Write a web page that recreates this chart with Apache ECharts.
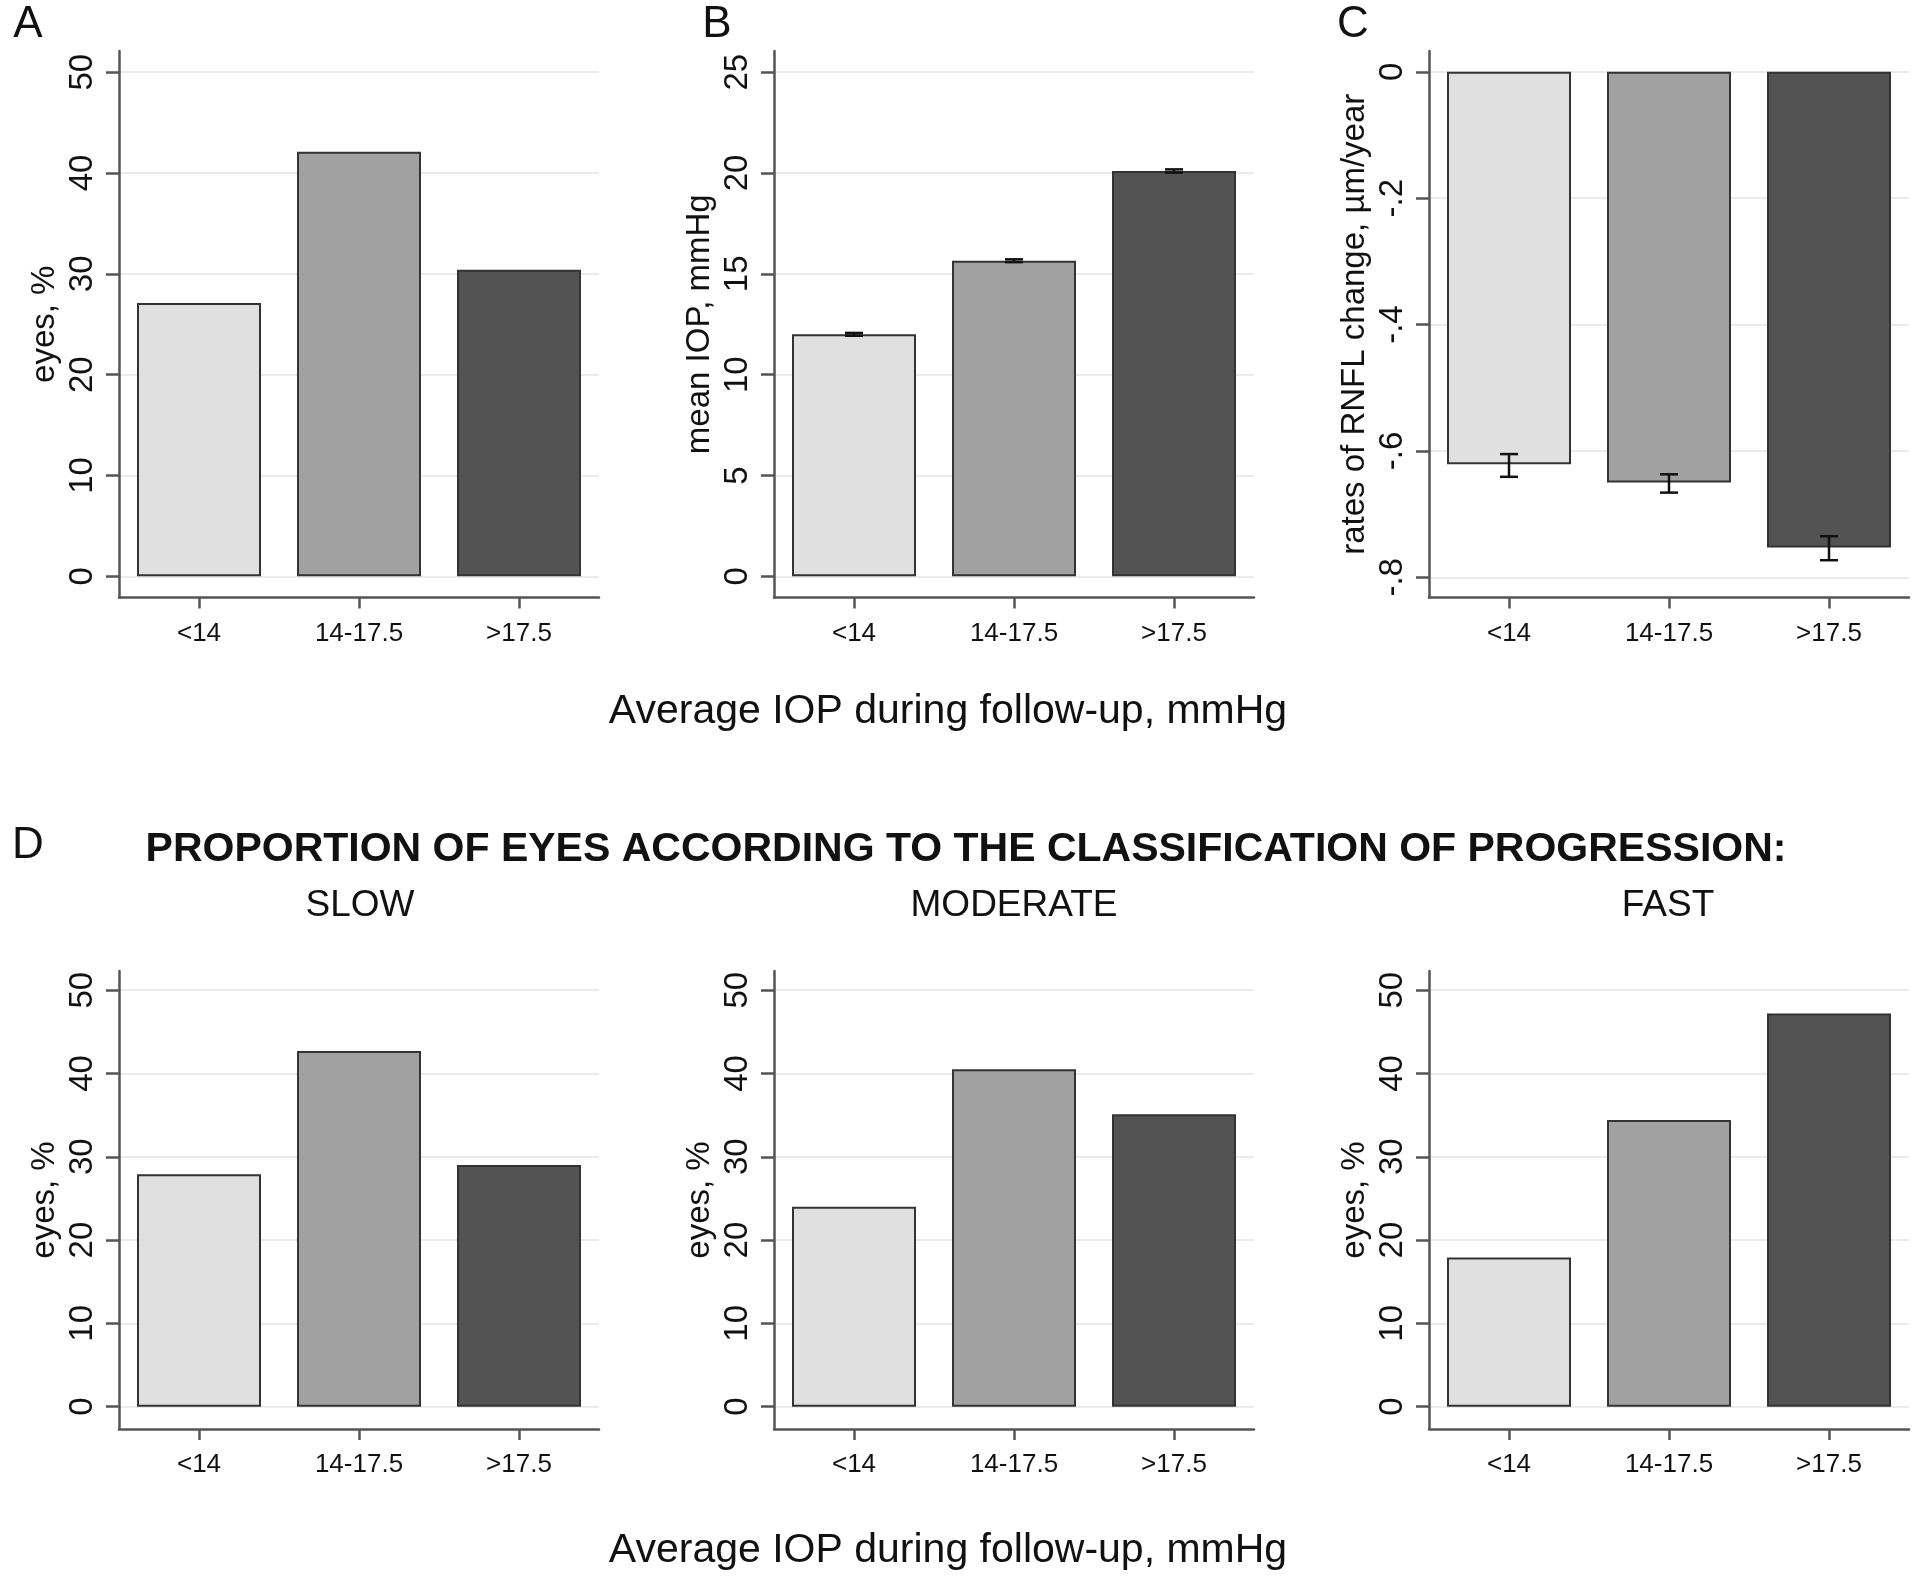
<!DOCTYPE html>
<html>
<head>
<meta charset="utf-8">
<script src="https://cdn.jsdelivr.net/npm/echarts@6/dist/echarts.min.js"></script>
<style>
html,body{margin:0;padding:0;background:#fff;}
#chart{width:1920px;height:1577px;}
</style>
</head>
<body>
<div id="chart"></div>
<script>
// ---------- data ----------
const categories = ['<14', '14-17.5', '>17.5'];
const eyesAll = [27.1, 42.1, 30.4];
const meanIOP = [12.0, 15.65, 20.1];
const meanIOPLow = [11.93, 15.58, 20.02];
const meanIOPHigh = [12.07, 15.72, 20.18];
const rnflRate = [-0.621, -0.650, -0.753];
const rnflLow = [-0.641, -0.666, -0.773];
const rnflHigh = [-0.605, -0.637, -0.735];
const eyesSlow = [27.9, 42.7, 29.0];
const eyesModerate = [24.0, 40.5, 35.1];
const eyesFast = [17.9, 34.4, 47.2];
const ticksPercent = [0, 10, 20, 30, 40, 50];
const ticksIOP = [0, 5, 10, 15, 20, 25];
const ticksRNFL = [0, -0.2, -0.4, -0.6, -0.8];
const panelLetters = ['A', 'B', 'C', 'D'];
const subTitles = ['SLOW', 'MODERATE', 'FAST'];
const mainTitle = 'PROPORTION OF EYES ACCORDING TO THE CLASSIFICATION OF PROGRESSION:';
const xTitle = 'Average IOP during follow-up, mmHg';
const yNames = ['eyes, %', 'mean IOP, mmHg', 'rates of RNFL change, µm/year'];

// ---------- style ----------
const FONT = 'Liberation Sans, Arial, Helvetica, sans-serif';
const barColors = ['#e0e0e0', '#a1a1a1', '#535353'];
const axisColor = '#555555';
const textColor = '#111111';
const gridColor = '#ebebeb';

const colLefts = [119, 774, 1429];
const gridW = 480;
const rows = [
  {top: 51, height: 546.5},
  {top: 971, height: 458}
];

const panels = [
  {row: 0, col: 0, vals: eyesAll, ticks: ticksPercent, min: -2.1, max: 52.1, name: yNames[0]},
  {row: 0, col: 1, vals: meanIOP, ticks: ticksIOP, min: -1.05, max: 26.05, name: yNames[1], lo: meanIOPLow, hi: meanIOPHigh},
  {row: 0, col: 2, vals: rnflRate, ticks: ticksRNFL, min: -0.832, max: 0.033, name: yNames[2], lo: rnflLow, hi: rnflHigh,
    fmt: v => (Math.abs(v) < 1e-9 ? '0' : String(+v.toFixed(2)).replace('0.', '.'))},
  {row: 1, col: 0, vals: eyesSlow, ticks: ticksPercent, min: -2.68, max: 52.3, name: yNames[0]},
  {row: 1, col: 1, vals: eyesModerate, ticks: ticksPercent, min: -2.68, max: 52.3, name: yNames[0]},
  {row: 1, col: 2, vals: eyesFast, ticks: ticksPercent, min: -2.68, max: 52.3, name: yNames[0]}
];

const grid = [], xAxis = [], yAxis = [], series = [];
panels.forEach((p, i) => {
  grid.push({left: colLefts[p.col], width: gridW, top: rows[p.row].top, height: rows[p.row].height, containLabel: false});
  xAxis.push({
    type: 'category', gridIndex: i, data: categories,
    axisLine: {show: true, onZero: false, lineStyle: {color: axisColor, width: 2.5}},
    axisTick: {show: true, alignWithLabel: true, length: 11, lineStyle: {color: axisColor, width: 2.5}},
    axisLabel: {fontFamily: FONT, fontSize: 26, color: textColor, margin: 23},
    splitLine: {show: false}
  });
  yAxis.push({
    type: 'value', gridIndex: i, min: p.min, max: p.max,
    name: p.name, nameLocation: 'middle', nameGap: 58,
    nameTextStyle: {fontFamily: FONT, fontSize: 33, color: textColor},
    axisLine: {show: true, onZero: false, lineStyle: {color: axisColor, width: 2.5}},
    axisTick: {show: true, customValues: p.ticks, length: 13, lineStyle: {color: axisColor, width: 2.5}},
    axisLabel: {customValues: p.ticks, rotate: 90, margin: 20, fontFamily: FONT, fontSize: 33, color: textColor,
      formatter: p.fmt ? p.fmt : (v => String(v))},
    splitLine: {show: true, lineStyle: {color: gridColor, width: 2}}
  });
  series.push({
    type: 'bar', xAxisIndex: i, yAxisIndex: i, barWidth: 124,
    data: p.vals.map((v, k) => ({value: v, itemStyle: {color: barColors[k]}})),
    itemStyle: {borderColor: '#333333', borderWidth: 2},
    silent: true, animation: false, z: 2
  });
  if (p.lo) {
    series.push({
      type: 'custom', xAxisIndex: i, yAxisIndex: i, z: 5, animation: false, silent: true,
      encode: {x: 0, y: [1, 2]},
      data: p.vals.map((v, k) => [k, p.lo[k], p.hi[k]]),
      renderItem: function (params, api) {
        const idx = api.value(0);
        const lo = api.coord([idx, api.value(1)]);
        const hi = api.coord([idx, api.value(2)]);
        const w = 9;
        const st = {stroke: '#111', lineWidth: 2.5};
        return {type: 'group', children: [
          {type: 'line', shape: {x1: lo[0], y1: lo[1], x2: hi[0], y2: hi[1]}, style: st},
          {type: 'line', shape: {x1: lo[0] - w, y1: lo[1], x2: lo[0] + w, y2: lo[1]}, style: st},
          {type: 'line', shape: {x1: hi[0] - w, y1: hi[1], x2: hi[0] + w, y2: hi[1]}, style: st}
        ]};
      }
    });
  }
});

const txt = (text, x, y, size, weight) => ({
  type: 'text', x: x, y: y, silent: true,
  style: {text: text, fontFamily: FONT, fontSize: size, fontWeight: weight || 'normal', fill: textColor,
    textAlign: 'center', textVerticalAlign: 'middle'}
});
const graphic = [
  txt(panelLetters[0], 28, 25, 44),
  txt(panelLetters[1], 717, 25, 44),
  txt(panelLetters[2], 1353, 25, 44),
  txt(panelLetters[3], 28, 846, 44),
  txt(mainTitle, 966, 850, 41, 'bold'),
  txt(subTitles[0], 360, 906, 37),
  txt(subTitles[1], 1014, 906, 37),
  txt(subTitles[2], 1668, 906, 37),
  txt(xTitle, 948, 712, 41),
  txt(xTitle, 948, 1551, 41)
];

const chart = echarts.init(document.getElementById('chart'), null, {renderer: 'canvas'});
chart.setOption({
  backgroundColor: '#ffffff',
  animation: false,
  grid: grid, xAxis: xAxis, yAxis: yAxis, series: series, graphic: graphic
});
</script>
</body>
</html>
